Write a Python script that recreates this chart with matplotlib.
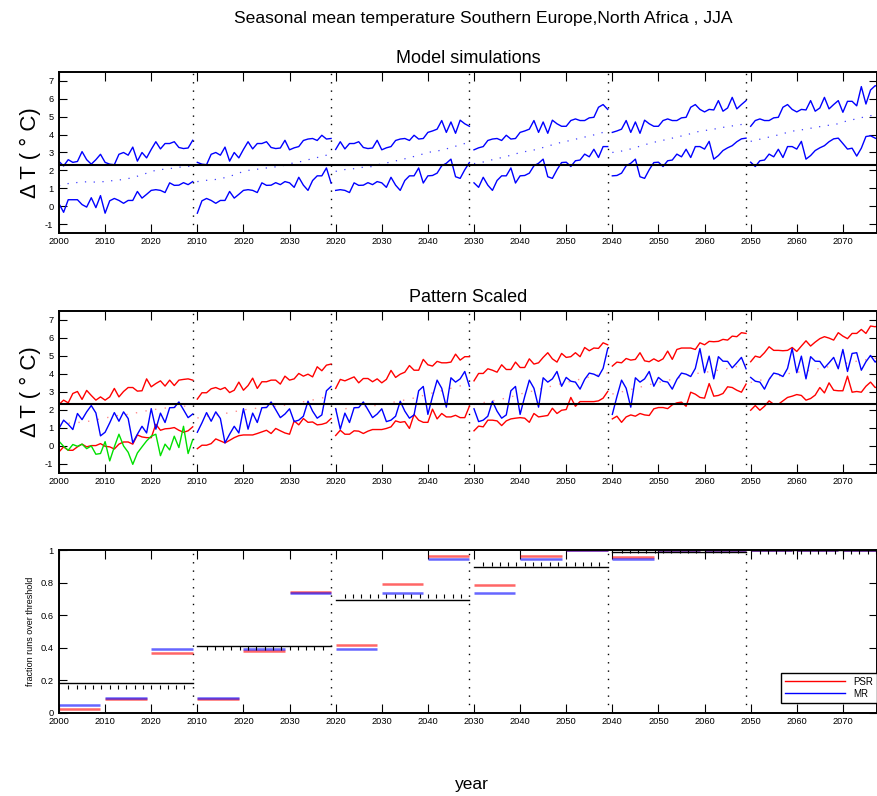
import numpy as np
import matplotlib
matplotlib.use('Agg')
import matplotlib.pyplot as plt
from matplotlib.lines import Line2D

plt.rcParams['font.family'] = ['Liberation Sans', 'DejaVu Sans']
plt.rcParams['axes.unicode_minus'] = False

# ---------------- data ----------------
first_year = 2000
seg_starts = [2000, 2010, 2020, 2030, 2040, 2050]
seg_len = 30
threshold = 2.3

# Panel 1: model simulations (annual, 2000-2079)
model_max = [2.5, 2.25, 2.6, 2.45, 2.5, 3.05, 2.6, 2.35, 2.6, 2.9,
             2.45, 2.35, 2.32, 2.9, 3.0, 2.85, 3.3, 2.52, 3.0, 2.7,
             3.17, 3.6, 3.2, 3.5, 3.5, 3.6, 3.28, 3.22, 3.25, 3.68,
             3.15, 3.26, 3.33, 3.67, 3.75, 3.78, 3.67, 3.96, 3.75, 3.78,
             4.12, 4.2, 4.3, 4.78, 4.12, 4.7, 4.07, 4.8, 4.6, 4.46,
             4.46, 4.78, 4.87, 4.78, 4.78, 4.93, 4.96, 5.52, 5.67, 5.4,
             5.26, 5.4, 5.37, 5.89, 5.3, 5.48, 6.07, 5.43, 5.67, 5.89,
             5.24, 5.85, 5.85, 5.6, 6.67, 5.7, 6.48, 6.72, 6.65, 6.6]
model_min = [0.15, -0.33, 0.37, 0.37, 0.37, 0.1, -0.04, 0.48, -0.07, 0.6,
             -0.38, 0.31, 0.44, 0.33, 0.17, 0.33, 0.33, 0.83, 0.46, 0.67,
             0.89, 0.93, 0.89, 0.77, 1.31, 1.17, 1.18, 1.32, 1.21, 1.38,
             1.31, 1.06, 1.62, 1.18, 0.89, 1.44, 1.7, 1.7, 2.14, 1.3,
             1.7, 1.72, 1.85, 2.26, 2.4, 2.63, 1.65, 1.56, 2.04, 2.44,
             2.46, 2.22, 2.54, 2.58, 2.91, 2.76, 3.18, 2.72, 3.33, 3.33,
             3.19, 3.62, 2.63, 2.83, 3.11, 3.26, 3.38, 3.6, 3.76, 3.8,
             3.5, 3.19, 3.24, 2.8, 3.24, 3.89, 3.93, 3.8, 3.7, 3.75]
model_mean = [1.15, 1.2, 1.27, 1.3, 1.33, 1.35, 1.37, 1.36, 1.35, 1.37,
              1.38, 1.41, 1.45, 1.47, 1.5, 1.55, 1.6, 1.68, 1.75, 1.85,
              1.95, 2.0, 2.05, 2.07, 2.1, 2.14, 2.18, 2.2, 2.22, 2.3,
              2.38, 2.42, 2.47, 2.53, 2.6, 2.65, 2.72, 2.78, 2.85, 2.92,
              3.0, 3.05, 3.08, 3.14, 3.2, 3.28, 3.35, 3.43, 3.5, 3.57,
              3.62, 3.68, 3.74, 3.8, 3.86, 3.92, 3.98, 4.05, 4.12, 4.19,
              4.22, 4.26, 4.3, 4.35, 4.4, 4.44, 4.48, 4.52, 4.56, 4.6,
              4.7, 4.76, 4.82, 4.88, 4.94, 5.0, 5.05, 5.1, 5.15, 5.2]

# Panel 2: pattern scaled
single_run = [0.97, 1.43, 1.2, 0.91, 1.8, 1.46, 1.89, 2.24, 1.83, 0.56,
              0.76, 1.28, 1.85, 1.37, 1.89, 1.52, 0.17, 0.65, 1.09, 0.72,
              2.07, 0.93, 1.82, 1.3, 2.12, 2.13, 2.44, 2.01, 1.57, 1.77,
              2.06, 1.35, 1.43, 1.65, 2.48, 1.93, 1.54, 1.72, 3.06, 3.3,
              1.75, 2.74, 3.65, 3.2, 2.15, 3.78, 3.54, 3.72, 4.13, 3.31,
              3.8, 3.59, 3.54, 3.15, 3.69, 4.04, 3.98, 3.85, 4.3, 5.4,
              4.06, 4.98, 3.72, 4.95, 4.7, 4.69, 4.33, 4.61, 4.91, 4.28,
              5.35, 4.13, 5.13, 5.17, 4.2, 4.67, 5.02, 4.65, 4.9, 4.7]
obs_2000 = [0.26, -0.02, -0.24, 0.08, -0.02, 0.1, -0.15, 0.0, -0.46, -0.42,
            0.24, -0.83, -0.05, 0.65, 0.0, -0.35, -1.02, -0.39, -0.05, 0.28,
            0.54, 0.65, -0.54, 0.1, -0.22, 0.54, -0.09, 1.09, -0.42, 0.35]
ps_max_2000 = [2.3, 2.54, 2.39, 2.91, 3.02, 2.58, 3.08, 2.8, 2.54, 2.72, 2.54, 2.72, 3.19, 2.72, 3.02,
               3.24, 3.24, 3.04, 3.06, 3.72, 3.28, 3.46, 3.61, 3.32, 3.65, 3.35, 3.65, 3.69, 3.72, 3.65]
ps_max_2010 = [2.6, 2.95, 2.95, 3.17, 3.24, 3.13, 3.24, 2.96, 3.09, 3.54, 3.09, 3.35, 3.76, 3.19, 3.56,
               3.56, 3.65, 3.65, 3.43, 3.87, 3.65, 3.72, 4.02, 3.87, 3.98, 3.83, 4.39, 4.17, 4.48, 4.54]
ps_max_2020 = [3.19, 3.69, 3.61, 3.72, 3.83, 3.5, 3.74, 3.74, 3.56, 3.72, 3.5, 3.69, 4.19, 3.8, 3.98,
               4.09, 4.46, 4.2, 4.2, 4.8, 4.5, 4.43, 4.69, 4.61, 4.61, 4.65, 5.09, 4.76, 4.95, 4.95]
ps_max_2030 = [3.61, 4.02, 4.02, 4.28, 4.2, 4.09, 4.5, 4.24, 4.24, 4.65, 4.35, 4.35, 4.83, 4.54, 4.61,
               4.91, 5.17, 4.83, 4.65, 5.13, 4.91, 4.95, 5.17, 4.95, 5.46, 5.28, 5.43, 5.41, 5.72, 5.61]
ps_max_2040 = [4.43, 4.65, 4.61, 4.85, 4.76, 4.8, 5.17, 4.72, 4.67, 4.83, 4.69, 4.83, 5.26, 4.8, 5.35,
               5.43, 5.43, 5.43, 5.35, 5.72, 5.61, 5.8, 5.78, 5.8, 5.91, 5.87, 6.09, 6.06, 6.28, 6.24]
ps_max_2050 = [4.67, 4.98, 4.91, 5.17, 5.5, 5.3, 5.3, 5.28, 5.3, 5.46, 5.24, 5.54, 5.83, 5.54, 5.76,
               5.95, 6.06, 5.98, 5.87, 6.28, 6.09, 5.95, 6.24, 6.24, 6.46, 6.24, 6.65, 6.61, 6.7, 6.65]
ps_min_2000 = [-0.33, -0.05, -0.24, -0.24, -0.05, 0.1, -0.05, 0.02, 0.02, 0.13, -0.02, -0.05, -0.17, 0.1, 0.22,
               0.22, 0.1, 0.61, 0.5, 0.46, 0.46, 1.2, 0.87, 0.95, 0.97, 1.02, 0.87, 0.76, 0.84, 1.06]
ps_min_2010 = [-0.15, 0.04, 0.04, 0.13, 0.39, 0.28, 0.17, 0.31, 0.46, 0.57, 0.61, 0.61, 0.61, 0.69, 0.78,
               0.87, 0.69, 0.97, 0.84, 0.72, 0.65, 1.39, 1.17, 1.52, 1.31, 1.33, 1.17, 1.2, 1.28, 1.52]
ps_min_2020 = [0.58, 0.87, 0.65, 0.65, 0.84, 0.82, 0.69, 0.82, 0.91, 0.91, 0.91, 0.97, 1.06, 1.39, 1.31,
               1.35, 0.97, 1.74, 1.43, 1.31, 1.31, 2.04, 1.5, 1.8, 1.61, 1.61, 1.7, 1.57, 1.57, 2.2]
ps_min_2030 = [0.84, 1.1, 1.06, 1.43, 1.43, 1.39, 1.13, 1.39, 1.5, 1.54, 1.57, 1.54, 1.31, 1.8, 1.61,
               1.65, 1.69, 2.09, 1.8, 1.98, 2.02, 2.69, 2.2, 2.46, 2.46, 2.46, 2.46, 2.5, 2.65, 3.02]
ps_min_2040 = [1.5, 1.65, 1.31, 1.61, 1.72, 1.65, 1.8, 1.72, 1.69, 2.06, 2.13, 2.13, 2.07, 2.28, 2.39,
               2.43, 2.2, 2.98, 2.87, 2.69, 2.65, 3.46, 2.76, 2.8, 2.91, 3.28, 3.24, 3.09, 2.98, 3.43]
ps_min_2050 = [1.98, 2.24, 1.98, 2.2, 2.5, 2.31, 2.31, 2.5, 2.69, 2.76, 2.85, 2.8, 2.54, 2.63, 2.82,
               3.24, 2.94, 3.5, 3.09, 3.06, 3.06, 3.87, 2.98, 3.02, 2.98, 3.31, 3.54, 3.24, 3.3, 3.4]
ps_mean = [1.2, 1.23, 1.26, 1.28, 1.3, 1.32, 1.35, 1.4, 1.45, 1.5,
           1.55, 1.6, 1.65, 1.7, 1.72, 1.75, 1.8, 1.85, 1.9, 1.95,
           2.0, 2.03, 2.06, 2.1, 2.12, 2.15, 2.18, 2.2, 2.22, 2.26,
           2.3, 2.35, 2.4, 2.45, 2.5, 2.55, 2.6, 2.66, 2.72, 2.8,
           2.88, 2.94, 3.0, 3.06, 3.13, 3.2, 3.26, 3.33, 3.4, 3.46,
           3.52, 3.58, 3.64, 3.7, 3.76, 3.82, 3.88, 3.94, 4.0, 4.05,
           4.08, 4.12, 4.16, 4.2, 4.25, 4.3, 4.35, 4.4, 4.45, 4.5,
           4.55, 4.6, 4.65, 4.7, 4.74, 4.78, 4.82, 4.86, 4.9, 4.94]
ps_max_segs = [ps_max_2000, ps_max_2010, ps_max_2020, ps_max_2030, ps_max_2040, ps_max_2050]
ps_min_segs = [ps_min_2000, ps_min_2010, ps_min_2020, ps_min_2030, ps_min_2040, ps_min_2050]

# Panel 3: fraction of runs over threshold, per decade within each segment
psr_frac = [[0.02, 0.085, 0.37], [0.085, 0.38, 0.74], [0.415, 0.79, 0.965],
            [0.785, 0.965, 1.0], [0.96, 1.0, 1.0], [1.0, 1.0, 1.0]]
mr_frac = [[0.05, 0.092, 0.39], [0.092, 0.39, 0.737], [0.39, 0.737, 0.947],
           [0.737, 0.947, 1.0], [0.947, 1.0, 1.0], [1.0, 1.0, 1.0]]
seg_line = [0.18, 0.408, 0.693, 0.894, 0.986, 1.0]
seg_marks = [0.16, 0.398, 0.72, 0.914, 0.993, 0.99]

# ---------------- figure ----------------
W_PX, H_PX = 878, 796
fig = plt.figure(figsize=(W_PX / 100, H_PX / 100), dpi=100)

def fx(px):
    return px / W_PX

def fy(py):
    return 1 - py / H_PX

left_px, right_px = 59, 877
panels_px = [(71.7, 233.3), (310.7, 473.0), (550.0, 712.7)]
axes = []
for top, bot in panels_px:
    ax = fig.add_axes([fx(left_px), fy(bot), fx(right_px - left_px), (bot - top) / H_PX])
    axes.append(ax)
ax1, ax2, ax3 = axes

xmax = 177.4
tick_pos, tick_lab = [], []
for k, s in enumerate(seg_starts):
    for d in range(3):
        tick_pos.append(k * seg_len + 10 * d)
        tick_lab.append(str(s + 10 * d))

def seg_x(k):
    return k * seg_len + np.arange(seg_len)

def seg_slice(arr, k):
    i0 = seg_starts[k] - first_year
    return np.asarray(arr[i0:i0 + seg_len])

for ax in axes:
    ax.set_xlim(0, xmax)
    ax.set_xticks(tick_pos)
    ax.set_xticklabels(tick_lab)
    for k in range(len(seg_starts) - 1):
        ax.axvline(k * seg_len + seg_len - 1, color='k', ls=(0, (1, 5)), lw=1.0, zorder=1)
    ax.tick_params(axis='both', direction='in', top=True, right=True, labelsize=6.7,
                   width=0.8, colors='k')
    ax.tick_params(axis='x', length=6.5, pad=3)
    ax.tick_params(axis='y', length=5.5, pad=4)
    for sp in ax.spines.values():
        sp.set_linewidth(1.4)

ylab = 'Δ T ( ° C)'

# Panel 1
for k in range(len(seg_starts)):
    x = seg_x(k)
    ax1.plot(x, seg_slice(model_max, k), color='b', lw=1.0)
    ax1.plot(x, seg_slice(model_min, k), color='b', lw=1.0)
    ax1.plot(x, seg_slice(model_mean, k), color='b', lw=0.9, alpha=0.75, ls=(0, (1, 6)))
ax1.axhline(threshold, color='k', lw=1.5, zorder=5)
ax1.set_ylim(-1.5, 7.5)
ax1.set_yticks(range(-1, 8))
ax1.set_title('Model simulations', fontsize=13, pad=6)
ax1.set_ylabel(ylab, fontsize=16, labelpad=3)

# Panel 2
for k in range(len(seg_starts)):
    x = seg_x(k)
    ax2.plot(x, ps_max_segs[k], color='r', lw=1.0)
    ax2.plot(x, ps_min_segs[k], color='r', lw=1.0)
    ax2.plot(x, seg_slice(ps_mean, k), color='r', lw=1.0, alpha=0.45, ls=(0, (1, 6)))
    ax2.plot(x, seg_slice(single_run, k), color='b', lw=1.0)
ax2.plot(seg_x(0), obs_2000, color='#00e000', lw=1.0)
ax2.axhline(threshold, color='k', lw=1.5, zorder=5)
ax2.set_ylim(-1.5, 7.5)
ax2.set_yticks(range(-1, 8))
ax2.set_title('Pattern Scaled', fontsize=13, pad=6)
ax2.set_ylabel(ylab, fontsize=16, labelpad=3)

# Panel 3
for k in range(len(seg_starts)):
    x0 = k * seg_len
    for d in range(3):
        xs = [x0 + 10 * d, x0 + 10 * d + 9]
        ax3.plot(xs, [psr_frac[k][d]] * 2, color='r', lw=1.8, alpha=0.6, solid_capstyle='butt')
        ax3.plot(xs, [mr_frac[k][d]] * 2, color='b', lw=1.8, alpha=0.6, solid_capstyle='butt')
    ax3.plot([x0, x0 + seg_len - 1], [seg_line[k]] * 2, color='k', lw=1.0)
    mx = x0 + np.arange(2, 28.5, 1.8)
    ax3.plot(mx, [seg_marks[k]] * len(mx), ls='none', marker='|', color='k',
             markersize=3, markeredgewidth=0.8)
ax3.set_ylim(0, 1)
ax3.set_yticks([0, 0.2, 0.4, 0.6, 0.8, 1])
ax3.set_yticklabels(['0', '0.2', '0.4', '0.6', '0.8', '1'])
ax3.set_ylabel('fraction runs over threshold', fontsize=6.5, labelpad=4)
handles = [Line2D([], [], color='r', lw=1.0), Line2D([], [], color='b', lw=1.0)]
leg = ax3.legend(handles, ['PSR', 'MR'], loc='lower right', bbox_to_anchor=(1.0, 10 / 162.7),
                 borderaxespad=0, fontsize=7, handlelength=6.2, handletextpad=0.8,
                 labelspacing=0.2, borderpad=0.4, fancybox=False, framealpha=1)
leg.get_frame().set_edgecolor('k')
leg.get_frame().set_linewidth(1.0)

fig.text(fx(483), fy(18), 'Seasonal mean temperature Southern Europe,North Africa , JJA',
         ha='center', va='center', fontsize=12.6)
fig.text(fx(472), fy(784), 'year', ha='center', va='center', fontsize=12.5)

fig.savefig('out.png', dpi=100)
